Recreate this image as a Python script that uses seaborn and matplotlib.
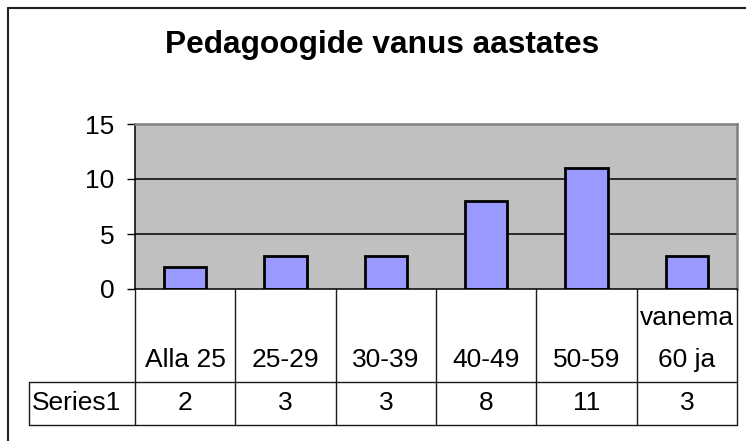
import numpy as np
import matplotlib
matplotlib.use("Agg")
import matplotlib.pyplot as plt
from matplotlib.lines import Line2D
import seaborn as sns

# Chart data
title = "Pedagoogide vanus aastates"
categories = ["Alla 25", "25-29", "30-39", "40-49", "50-59", "vanema\n60 ja"]
values = [2, 3, 3, 8, 11, 3]
series_name = "Series1"
y_ticks = [0, 5, 10, 15]

sns.set_style("white")
plt.rcParams['font.family'] = ['Liberation Sans', 'DejaVu Sans']
plt.rcParams['text.color'] = 'black'
plt.rcParams['ytick.labelcolor'] = 'black'
fs = 19

W, H = 746, 441
fig = plt.figure(figsize=(W / 100, H / 100), dpi=100)

def fx(px):
    return px / W

def fy(py):
    return 1 - py / H

# plot area
ax = fig.add_axes([fx(135), fy(289), fx(737) - fx(135), fy(124) - fy(289)])
ax.set_facecolor('#C0C0C0')
for y in y_ticks[1:-1]:
    ax.axhline(y, color='black', lw=1.1, zorder=0.5)
sns.barplot(x=categories, y=values, color='#9999FF', saturation=1, width=0.42,
            edgecolor='black', linewidth=2, ax=ax, zorder=2)
ax.set_xlim(-0.5, len(categories) - 0.5)
ax.set_ylim(y_ticks[0], y_ticks[-1])
ax.set_yticks(y_ticks)
ax.set_xticks([])
ax.set_xlabel('')
ax.set_ylabel('')
ax.tick_params(axis='y', direction='out', length=6, width=1, pad=9,
               labelsize=fs, left=True, color='black', labelcolor='black')
for side in ['top', 'right']:
    ax.spines[side].set_color('#808080')
    ax.spines[side].set_linewidth(1.8)
for side in ['left', 'bottom']:
    ax.spines[side].set_color('black')
    ax.spines[side].set_linewidth(1.1)

# data table below the plot
tab = fig.add_axes([fx(135), fy(425), fx(737) - fx(135), fy(289) - fy(425)])
tab.set_xlim(-0.5, len(categories) - 0.5)
tab.set_ylim(0, 1)
tab.axis('off')
hdr_left = -0.5 - (135 - 29) / ((737 - 135) / len(categories))
row_div = (425 - 382) / (425 - 289)
lc = '#1a1a1a'
for i in range(len(categories) + 1):
    tab.plot([i - 0.5, i - 0.5], [0, 1], color=lc, lw=1, clip_on=False)
tab.plot([hdr_left, len(categories) - 0.5], [row_div, row_div], color=lc, lw=1, clip_on=False)
tab.plot([hdr_left, len(categories) - 0.5], [0, 0], color=lc, lw=1, clip_on=False)
tab.plot([hdr_left, hdr_left], [0, row_div], color=lc, lw=1, clip_on=False)

for i, (cat, val) in enumerate(zip(categories, values)):
    tab.text(i, (425 - 367) / (425 - 289), cat, ha='center', va='baseline',
             fontsize=fs, linespacing=1.95)
    tab.text(i, row_div / 2, str(val), ha='center', va='center', fontsize=fs)
tab.text(hdr_left + 0.03, row_div / 2, series_name, ha='left', va='center',
         fontsize=fs, clip_on=False)

# title
fig.text(fx(382.5), fy(53), title, ha='center', va='baseline',
         fontsize=22.8, fontweight='bold')

# chart frame (left and top edges visible)
fig.add_artist(Line2D([fx(7.5), fx(7.5)], [fy(7.5), 0], color='#222222', lw=1.5))
fig.add_artist(Line2D([fx(7.5), 1], [fy(7.5), fy(7.5)], color='#222222', lw=1.5))

fig.savefig('out.png', dpi=100)
